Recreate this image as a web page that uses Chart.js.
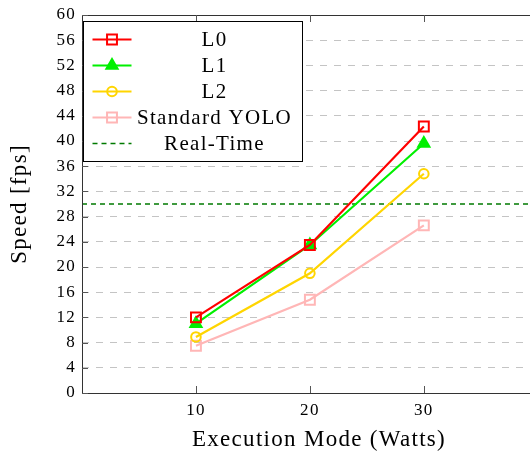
<!DOCTYPE html>
<html>
<head>
<meta charset="utf-8">
<script src="https://cdn.jsdelivr.net/npm/chart.js@4.4.1/dist/chart.umd.min.js"></script>
<style>
  html, body { margin: 0; padding: 0; background: #fff; overflow: hidden; }
  #wrap { position: relative; width: 556px; height: 454px; }
</style>
</head>
<body>
<div id="wrap"><canvas id="speedChart" width="556" height="454"></canvas></div>
<script>
// Dữ liệu
const watts = [10, 20, 30];
const speedL0 = [12.0, 23.5, 42.3];
const speedL1 = [11.0, 23.5, 39.6];
const speedL2 = [8.9, 19.0, 34.8];
const speedYolo = [7.5, 14.8, 26.6];
const realTime = 30;
const xRange = [0, 41.6];
const yTicks = [0, 4, 8, 12, 16, 20, 24, 28, 32, 36, 40, 44, 48, 52, 56, 60];
const seriesNames = ['L0', 'L1', 'L2', 'Standard YOLO', 'Real-Time'];

const FONT = '"Liberation Serif", "DejaVu Serif", serif';
const LETTER_SPACING = '1.3px'; // chữ kiểu LaTeX rộng hơn

function toPoints(values) {
    return watts.map((w, i) => ({ x: w, y: values[i] }));
}

const series = [
    { label: seriesNames[0], data: toPoints(speedL0), color: '#ff0000', style: 'rect', radius: 7, fill: false },
    { label: seriesNames[1], data: toPoints(speedL1), color: '#00f000', style: 'triangle', radius: 6.5, fill: true },
    { label: seriesNames[2], data: toPoints(speedL2), color: '#ffd500', style: 'circle', radius: 4.8, fill: false },
    { label: seriesNames[3], data: toPoints(speedYolo), color: '#ffb6b6', style: 'rect', radius: 7, fill: false }
];

const datasets = series.map(s => ({
    label: s.label,
    data: s.data,
    borderColor: s.color,
    backgroundColor: s.fill ? s.color : 'rgba(0,0,0,0)',
    borderWidth: 2.2,
    pointStyle: s.style,
    pointRadius: s.radius,
    pointBorderWidth: 2,
    pointBorderColor: s.color,
    pointBackgroundColor: s.fill ? s.color : 'rgba(0,0,0,0)',
    tension: 0
}));

datasets.push({
    label: seriesNames[4],
    data: xRange.map(x => ({ x: x, y: realTime })),
    borderColor: '#007a00',
    borderWidth: 1.6,
    borderDash: [5, 4],
    pointRadius: 0,
    tension: 0
});

// giãn chữ cho giống font Computer Modern
const letterSpacing = {
    id: 'letterSpacing',
    beforeUpdate(chart) { chart.ctx.letterSpacing = LETTER_SPACING; },
    beforeDraw(chart) { chart.ctx.letterSpacing = LETTER_SPACING; }
};

// Vẽ trục, vạch chia và chú thích kiểu pgfplots
const pgfDecor = {
    id: 'pgfDecor',
    afterDraw(chart) {
        const { ctx, chartArea: a, scales } = chart;
        ctx.save();
        ctx.strokeStyle = '#333';
        ctx.lineWidth = 1;
        // khung: trên, trái, dưới
        ctx.beginPath();
        ctx.moveTo(chart.width, a.top + 0.5);
        ctx.lineTo(a.left + 0.5, a.top + 0.5);
        ctx.moveTo(a.left + 0.5, a.top);
        ctx.lineTo(a.left + 0.5, a.bottom + 0.5);
        ctx.moveTo(a.left, a.bottom + 0.5);
        ctx.lineTo(chart.width, a.bottom + 0.5);
        ctx.stroke();
        // vạch chia trục y
        ctx.strokeStyle = '#555';
        yTicks.forEach(v => {
            const y = Math.round(scales.y.getPixelForValue(v)) + 0.5;
            ctx.beginPath();
            ctx.moveTo(a.left, y);
            ctx.lineTo(a.left + 6, y);
            ctx.stroke();
        });
        // vạch chia trục x
        watts.forEach(v => {
            const x = Math.round(scales.x.getPixelForValue(v)) + 0.5;
            ctx.beginPath();
            ctx.moveTo(x, a.bottom);
            ctx.lineTo(x, a.bottom - 7);
            ctx.moveTo(x, a.top);
            ctx.lineTo(x, a.top + 7);
            ctx.stroke();
        });

        // chú thích
        const bx = a.left + 1.5, by = a.top + 6.5, bw = 219, bh = 140;
        ctx.fillStyle = '#fff';
        ctx.fillRect(bx, by, bw, bh);
        ctx.strokeStyle = '#000';
        ctx.lineWidth = 1;
        ctx.strokeRect(bx, by, bw, bh);

        ctx.font = '21px ' + FONT;
        ctx.letterSpacing = LETTER_SPACING;
        ctx.fillStyle = '#000';
        ctx.textAlign = 'center';
        ctx.textBaseline = 'middle';
        chart.data.datasets.forEach((ds, i) => {
            const y = by + 18 + i * 26;
            const x0 = bx + 9, x1 = bx + 48, xm = (x0 + x1) / 2;
            ctx.save();
            ctx.strokeStyle = ds.borderColor;
            ctx.lineWidth = ds.borderWidth;
            if (ds.borderDash) ctx.setLineDash(ds.borderDash);
            ctx.beginPath();
            ctx.moveTo(x0, y);
            ctx.lineTo(x1, y);
            ctx.stroke();
            ctx.restore();
            if (ds.pointRadius > 0) {
                ctx.save();
                ctx.strokeStyle = ds.pointBorderColor;
                ctx.fillStyle = ds.pointBackgroundColor;
                ctx.lineWidth = ds.pointBorderWidth;
                Chart.helpers.drawPoint(ctx, { pointStyle: ds.pointStyle, radius: ds.pointRadius, borderWidth: ds.pointBorderWidth, rotation: 0 }, xm, y);
                ctx.restore();
            }
            ctx.fillText(ds.label, bx + 131, y + 1);
        });
        ctx.restore();
    }
};

const ctx = document.getElementById('speedChart').getContext('2d');
new Chart(ctx, {
    type: 'line',
    data: { datasets: datasets },
    plugins: [letterSpacing, pgfDecor],
    options: {
        responsive: false,
        animation: false,
        layout: { autoPadding: false, padding: { top: 15, right: 0, bottom: 0, left: 0 } },
        plugins: {
            legend: { display: false },
            tooltip: { enabled: false }
        },
        scales: {
            x: {
                type: 'linear',
                min: xRange[0],
                max: xRange[1],
                afterBuildTicks: scale => { scale.ticks = watts.map(v => ({ value: v })); },
                afterFit: scale => {
                    scale.height = 61;
                    scale.paddingLeft = 0;
                    scale.paddingRight = 0;
                },
                border: { display: false, width: 0 },
                grid: { display: false, drawOnChartArea: false, drawTicks: false, lineWidth: 0 },
                ticks: { color: '#000', font: { family: FONT, size: 17 }, padding: 7 },
                title: {
                    display: true,
                    text: 'Execution Mode (Watts)',
                    color: '#000',
                    font: { family: FONT, size: 23 },
                    padding: { top: 0, bottom: 0 }
                }
            },
            y: {
                min: 0,
                max: 60,
                afterBuildTicks: scale => { scale.ticks = yTicks.map(v => ({ value: v })); },
                afterFit: scale => {
                    scale.width = 82;
                    scale.paddingTop = 0;
                    scale.paddingBottom = 0;
                },
                border: { display: false, width: 0, dash: [7, 7] },
                grid: {
                    color: '#c4c4c4',
                    lineWidth: 1,
                    drawTicks: false
                },
                ticks: { color: '#000', font: { family: FONT, size: 17 }, padding: 6 },
                title: {
                    display: true,
                    text: 'Speed [fps]',
                    color: '#000',
                    font: { family: FONT, size: 23 },
                    padding: { top: 6, bottom: 0 }
                }
            }
        }
    }
});
</script>
</body>
</html>
